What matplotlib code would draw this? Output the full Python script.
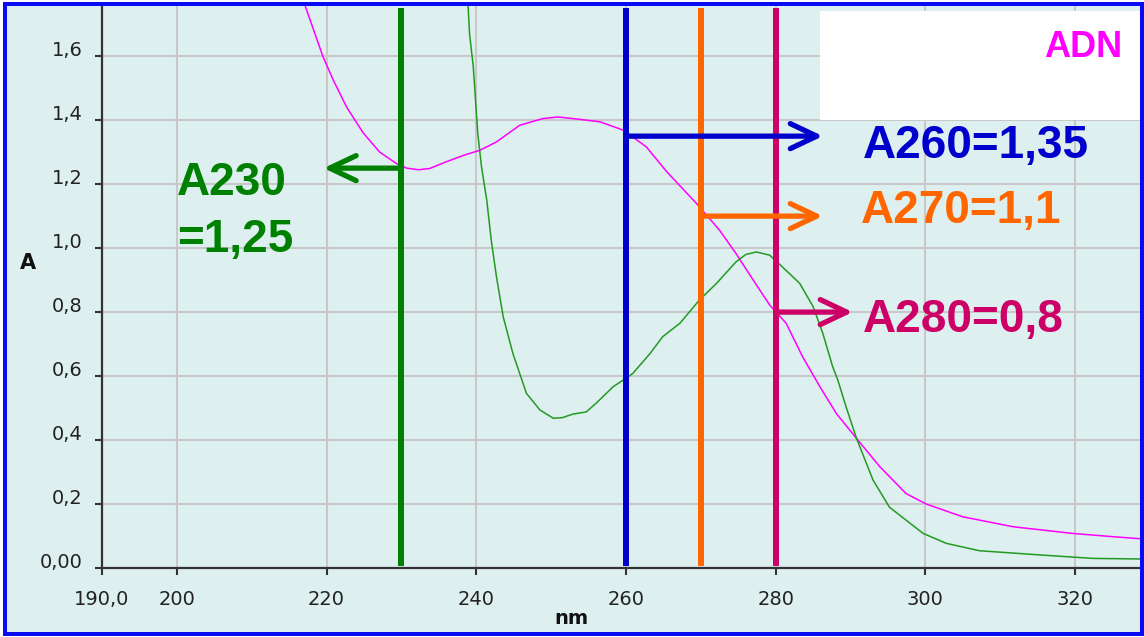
import matplotlib
matplotlib.use("Agg")
import matplotlib.pyplot as plt
from matplotlib.patches import Rectangle, FancyArrowPatch, ArrowStyle

# --- data -----------------------------------------------------------------
# DNA (ADN) absorption spectrum
wl_dna = [215.0, 217.1, 219.5, 220.9, 222.7, 224.9, 227.1, 229.3, 230.7, 232.3,
          233.8, 236.0, 238.3, 240.5, 242.7, 245.8, 248.9, 250.9, 252.9, 256.5,
          259.6, 262.7, 265.4, 269.4, 272.5, 274.7, 277.0, 279.2, 281.4, 283.6,
          285.9, 288.1, 290.8, 293.9, 297.4, 300.1, 305.0, 311.7, 319.7, 325.0,
          329.5]
abs_dna = [1.95, 1.76, 1.60, 1.525, 1.44, 1.36, 1.30, 1.265, 1.25, 1.245,
           1.249, 1.27, 1.29, 1.306, 1.332, 1.384, 1.405, 1.41, 1.405, 1.395,
           1.369, 1.317, 1.24, 1.14, 1.056, 0.983, 0.90, 0.822, 0.765, 0.66,
           0.567, 0.483, 0.405, 0.317, 0.233, 0.20, 0.16, 0.129, 0.108, 0.098,
           0.09]

# protein absorption spectrum
wl_prot = [237.5, 238.9, 239.1, 239.6, 240.2, 240.7, 241.4, 242.0, 242.7, 243.6,
           244.9, 246.7, 248.5, 250.3, 251.5, 252.9, 254.7, 256.0, 258.3, 260.0,
           260.9, 263.2, 264.9, 267.2, 269.8, 272.1, 274.7, 276.0, 277.4, 279.2,
           281.4, 283.2, 285.0, 286.3, 287.6, 288.3, 289.4, 290.8, 293.0, 295.2,
           299.7, 302.8, 307.2, 315.2, 322.4, 329.5]
abs_prot = [2.10, 1.76, 1.67, 1.567, 1.358, 1.254, 1.15, 1.025, 0.91, 0.785,
            0.67, 0.546, 0.494, 0.468, 0.47, 0.481, 0.488, 0.515, 0.567, 0.593,
            0.608, 0.67, 0.723, 0.765, 0.8375, 0.89, 0.957, 0.98, 0.988, 0.978,
            0.93, 0.89, 0.817, 0.733, 0.63, 0.5875, 0.504, 0.405, 0.275, 0.19,
            0.108, 0.077, 0.054, 0.041, 0.030, 0.028]

# reading wavelengths and the absorbances read there
marker_nm = [230, 260, 270, 280]
marker_abs = [1.25, 1.35, 1.1, 0.8]
marker_colors = ['#008000', '#0000CC', '#FF6600', '#CC0066']

x_ticks = [190, 200, 220, 240, 260, 280, 300, 320]
x_tick_labels = ['190,0', '200', '220', '240', '260', '280', '300', '320']
y_ticks = [0.0, 0.2, 0.4, 0.6, 0.8, 1.0, 1.2, 1.4, 1.6]
y_tick_labels = ['0,00', '0,2', '0,4', '0,6', '0,8', '1,0', '1,2', '1,4', '1,6']

# --- figure -----------------------------------------------------------------
W, H, DPI = 1144, 637, 100
BG = '#DDF0EF'
FRAME = '#0A0AF5'
BIG = 'Liberation Sans'

fig = plt.figure(figsize=(W / DPI, H / DPI), dpi=DPI, facecolor='white')

# panel background and blue frame
fig.patches.append(Rectangle((5 / W, 3.5 / H), 1137 / W, 629.5 / H,
                             transform=fig.transFigure, facecolor=BG,
                             edgecolor='none', zorder=-1))
fig.patches.append(Rectangle((5 / W, 3.5 / H), 1137 / W, 629.5 / H,
                             transform=fig.transFigure, fill=False,
                             edgecolor=FRAME, lw=2.9, zorder=20))

ax = fig.add_axes([102 / W, 69 / H, 1039 / W, 563 / H])
ax.set_facecolor(BG)
ax.set_xlim(190, 328.8)
ax.set_ylim(0, 1.76)

ax.set_xticks(x_ticks)
ax.set_xticklabels(x_tick_labels)
ax.set_yticks(y_ticks)
ax.set_yticklabels(y_tick_labels)
ax.tick_params(axis='both', direction='out', length=5, width=1.5,
               color='#333333', labelsize=14, labelcolor='#222222')
ax.tick_params(axis='x', pad=11)
ax.tick_params(axis='y', pad=9)
for lab in ax.get_yticklabels():
    lab.set_verticalalignment('baseline')

ax.grid(True, color='#C8C8C8', lw=1.5)
ax.set_axisbelow(True)
for side in ('top', 'right'):
    ax.spines[side].set_visible(False)
for side in ('left', 'bottom'):
    ax.spines[side].set_color('#333333')
    ax.spines[side].set_linewidth(1.6)

# spectra
ax.plot(wl_dna, abs_dna, color='#FF00FF', lw=1.1, zorder=3)
ax.plot(wl_prot, abs_prot, color='#229A22', lw=1.1, zorder=3.2)

# reading lines
ax.vlines(marker_nm, 0.005, 1.75, colors=marker_colors, lw=4.3, zorder=4)

# arrows from each reading line to its label
arrow_tips = [219.6, 286.3, 286.3, 290.3]
style = ArrowStyle('->', head_length=19, head_width=9)
for nm, val, col, tip in zip(marker_nm, marker_abs, marker_colors, arrow_tips):
    ax.add_patch(FancyArrowPatch((nm, val), (tip, val), arrowstyle=style,
                                 mutation_scale=1, color=col, lw=3.8,
                                 capstyle='round', joinstyle='round',
                                 shrinkA=0, shrinkB=0, zorder=5))

# value labels
ax.text(200.0, 1.166, 'A230', ha='left', va='baseline', color=marker_colors[0],
        fontsize=33, fontweight='bold', family=BIG, zorder=6)
ax.text(200.0, 0.9875, '=1,25', ha='left', va='baseline', color=marker_colors[0],
        fontsize=33, fontweight='bold', family=BIG, zorder=6)
ax.text(291.7, 1.281, 'A260=1,35', ha='left', va='baseline',
        color=marker_colors[1], fontsize=33, fontweight='bold', family=BIG,
        zorder=6)
ax.text(291.4, 1.078, 'A270=1,1', ha='left', va='baseline',
        color=marker_colors[2], fontsize=33, fontweight='bold', family=BIG,
        zorder=6)
ax.text(291.6, 0.7375, 'A280=0,8', ha='left', va='baseline',
        color=marker_colors[3], fontsize=33, fontweight='bold', family=BIG,
        zorder=6)

# legend box
ax.add_patch(Rectangle((0.691, 0.7957), 0.33, 0.1936, transform=ax.transAxes,
                       facecolor='white', edgecolor='none', zorder=7,
                       clip_on=False))
ax.text(0.9817, 0.9076, 'ADN', transform=ax.transAxes, ha='right',
        va='baseline', color='#FF00FF', fontsize=26, fontweight='bold',
        family=BIG, zorder=8)

# axis titles
fig.text(28 / W, 1 - 263 / H, 'A', ha='center', va='center',
         fontsize=15, fontweight='bold', color='#111111')
fig.text(571 / W, 1 - 618 / H, 'nm', ha='center', va='center',
         fontsize=14, fontweight='bold', color='#111111')

fig.savefig('out.png', dpi=DPI, facecolor='white')
